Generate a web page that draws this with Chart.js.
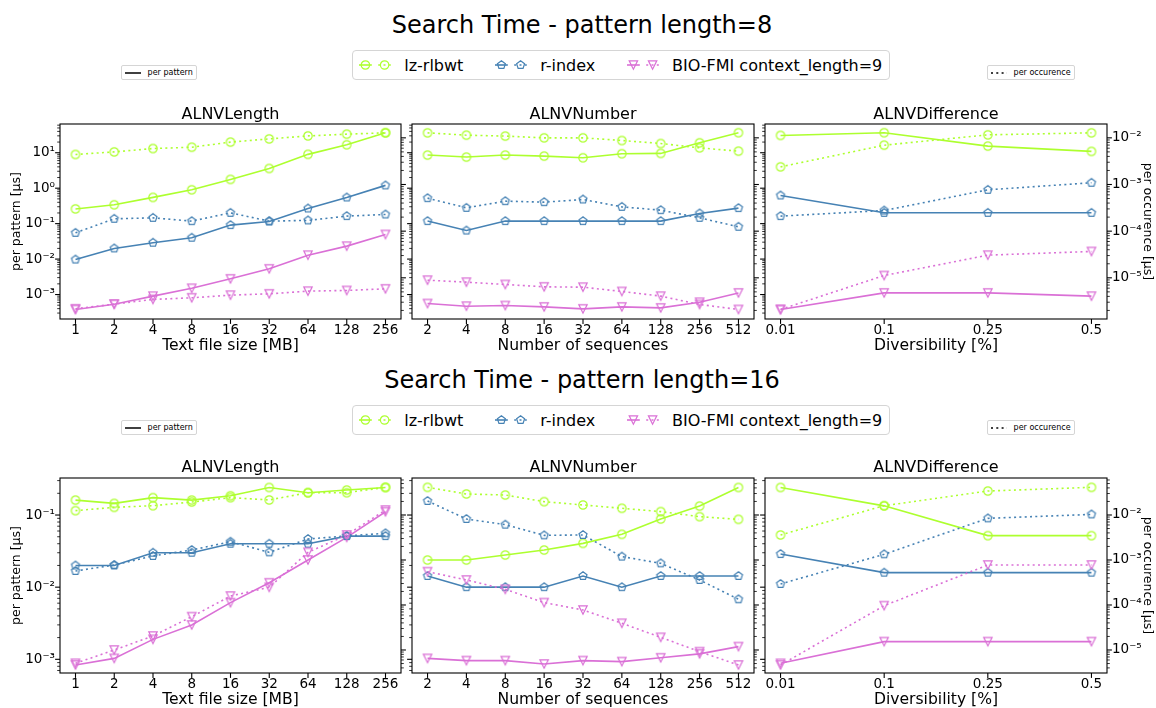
<!DOCTYPE html>
<html>
<head>
<meta charset="utf-8">
<title>Search Time</title>
<script src="https://cdn.jsdelivr.net/npm/chart.js@4.4.1/dist/chart.umd.min.js"></script>
<style>
  html, body { margin: 0; padding: 0; background: #fff; }
  body { width: 1156px; height: 708px; overflow: hidden; position: relative;
         font-family: "DejaVu Sans", sans-serif; color: #000; }
  canvas { position: absolute; }
  .suptitle { position: absolute; left: 4px; width: 1156px; text-align: center;
              font-size: 24px; line-height: 24px; white-space: nowrap; }
  .legend { position: absolute; display: flex; align-items: center; background: #fff;
            border: 1px solid #d5d5d5; box-sizing: border-box; white-space: nowrap; }
  .entry { display: flex; align-items: center; }
  .entry svg { display: block; }
</style>
</head>
<body>
<script>
// ---------- categories ----------
const fileSizesMB    = ['1', '2', '4', '8', '16', '32', '64', '128', '256'];
const sequenceCounts = ['2', '4', '8', '16', '32', '64', '128', '256', '512'];
const diversities    = ['0.01', '0.1', '0.25', '0.5'];

// ---------- pattern length 8 ----------
// ALNVLength
const len8LzPattern     = [0.26, 0.34, 0.55, 0.90, 1.77, 3.6, 9.0, 16.8, 36.7];
const len8LzOccurence   = [4.4e-3, 5.0e-3, 5.9e-3, 6.3e-3, 8.1e-3, 9.5e-3, 0.011, 0.012, 0.0128];
const len8RiPattern     = [0.0097, 0.020, 0.029, 0.040, 0.091, 0.115, 0.268, 0.548, 1.2];
const len8RiOccurence   = [9.2e-5, 1.84e-4, 1.93e-4, 1.64e-4, 2.47e-4, 1.64e-4, 1.7e-4, 2.1e-4, 2.28e-4];
const len8BioPattern    = [3.77e-4, 5.3e-4, 9.0e-4, 1.5e-3, 2.77e-3, 5.3e-3, 0.0129, 0.0232, 0.0494];
const len8BioOccurence  = [2.17e-6, 2.73e-6, 3.44e-6, 3.73e-6, 4.25e-6, 4.54e-6, 5.18e-6, 5.36e-6, 5.81e-6];
// ALNVNumber
const num8LzPattern     = [8.6, 7.55, 8.6, 8.05, 7.22, 9.37, 9.57, 19.1, 36.7];
const num8LzOccurence   = [0.0128, 0.0114, 0.0109, 0.0100, 0.0100, 8.77e-3, 7.56e-3, 6.1e-3, 5.18e-3];
const num8RiPattern     = [0.118, 0.064, 0.118, 0.118, 0.118, 0.118, 0.118, 0.194, 0.274];
const num8RiOccurence   = [5.1e-4, 3.16e-4, 4.4e-4, 4.18e-4, 4.77e-4, 3.32e-4, 2.82e-4, 1.93e-4, 1.24e-4];
const num8BioPattern    = [5.57e-4, 4.69e-4, 4.89e-4, 4.48e-4, 3.94e-4, 4.48e-4, 4.2e-4, 6.08e-4, 1.11e-3];
const num8BioOccurence  = [8.9e-6, 8.07e-6, 7.2e-6, 6.41e-6, 6.3e-6, 5.1e-6, 4.05e-6, 2.68e-6, 2.1e-6];
// ALNVDifference
const div8LzPattern     = [30.8, 36.7, 15.4, 10.9];
const div8LzOccurence   = [2.39e-3, 6.96e-3, 0.0116, 0.0128];
const div8RiPattern     = [0.624, 0.202, 0.202, 0.202];
const div8RiOccurence   = [2.1e-4, 2.77e-4, 7.69e-4, 1.09e-3];
const div8BioPattern    = [3.77e-4, 1.11e-3, 1.11e-3, 9.0e-4];
const div8BioOccurence  = [2.1e-6, 1.12e-5, 3.06e-5, 3.67e-5];

// ---------- pattern length 16 ----------
// ALNVLength
const len16LzPattern    = [0.161, 0.145, 0.174, 0.161, 0.185, 0.241, 0.204, 0.222, 0.241];
const len16LzOccurence  = [0.0125, 0.0148, 0.0161, 0.0194, 0.0243, 0.0216, 0.0313, 0.0313, 0.0412];
const len16RiPattern    = [0.020, 0.020, 0.030, 0.030, 0.040, 0.040, 0.040, 0.051, 0.051];
const len16RiOccurence  = [5.7e-4, 7.74e-4, 1.23e-3, 1.67e-3, 2.55e-3, 1.48e-3, 2.93e-3, 3.42e-3, 3.92e-3];
const len16BioPattern   = [8.34e-4, 1.03e-3, 1.89e-3, 2.99e-3, 6.1e-3, 0.0115, 0.0238, 0.049, 0.111];
const len16BioOccurence = [5.06e-6, 1.0e-5, 2.05e-5, 5.5e-5, 1.58e-4, 2.47e-4, 1.48e-3, 3.6e-3, 0.0129];
// ALNVNumber
const num16LzPattern    = [0.0238, 0.0238, 0.0279, 0.0327, 0.0405, 0.054, 0.088, 0.133, 0.241];
const num16LzOccurence  = [0.0412, 0.0293, 0.0278, 0.0198, 0.0167, 0.0141, 0.0119, 9.19e-3, 8.01e-3];
const num16RiPattern    = [0.0143, 0.0100, 0.0100, 0.0100, 0.0143, 0.0100, 0.0143, 0.0143, 0.0143];
const num16RiOccurence  = [0.0205, 8.15e-3, 6.1e-3, 3.53e-3, 3.6e-3, 1.19e-3, 8.43e-4, 3.6e-4, 1.34e-4];
const num16BioPattern   = [1.03e-3, 9.6e-4, 9.6e-4, 8.62e-4, 9.6e-4, 9.3e-4, 1.05e-3, 1.19e-3, 1.5e-3];
const num16BioOccurence = [5.5e-4, 3.6e-4, 2.23e-4, 1.13e-4, 7.75e-5, 3.92e-5, 1.91e-5, 9.19e-6, 4.64e-6];
// ALNVDifference
const div16LzPattern    = [0.241, 0.134, 0.0518, 0.0518];
const div16LzOccurence  = [3.6e-3, 0.0161, 0.0341, 0.0412];
const div16RiPattern    = [0.0288, 0.0159, 0.0159, 0.0159];
const div16RiOccurence  = [2.93e-4, 1.34e-3, 8.43e-3, 0.0103];
const div16BioPattern   = [8.8e-4, 1.76e-3, 1.76e-3, 1.76e-3];
const div16BioOccurence = [4.64e-6, 9.66e-5, 7.74e-4, 7.74e-4];

// ---------- axis limits (log) ----------
const len8PatternRange    = [2.04e-4, 64.7];
const len8OccurenceRange  = [1.31e-6, 0.0198];
const len16PatternRange   = [6.46e-4, 0.326];
const len16OccurenceRange = [3.08e-6, 0.0664];

// ---------- styling ----------
const FONT = '"DejaVu Sans", sans-serif';
const METHODS = [
  { key: 'lz',  name: 'lz-rlbwt',                 color: '#adff2f', marker: 'circle'   },
  { key: 'ri',  name: 'r-index',                  color: '#4682b4', marker: 'pentagon' },
  { key: 'bio', name: 'BIO-FMI context_length=9', color: '#da70d6', marker: 'tridown'  }
];
const LINE_W = 1.6;
const DOTS = [2, 3.3];
const MARK_R = 4.2;
const COLS = [[60, 401], [412, 754], [765, 1107]];

const ROWS = [
  {
    title: 'Search Time - pattern length=8', supTop: 13, legendTop: 50, smallTop: 65,
    boxTop: 124, boxBottom: 319, titlePad: 13,
    patternRange: len8PatternRange, occurenceRange: len8OccurenceRange,
    panels: [
      { name: 'ALNVLength', xTitle: 'Text file size [MB]', labels: fileSizesMB,
        lz: [len8LzPattern, len8LzOccurence], ri: [len8RiPattern, len8RiOccurence], bio: [len8BioPattern, len8BioOccurence] },
      { name: 'ALNVNumber', xTitle: 'Number of sequences', labels: sequenceCounts,
        lz: [num8LzPattern, num8LzOccurence], ri: [num8RiPattern, num8RiOccurence], bio: [num8BioPattern, num8BioOccurence] },
      { name: 'ALNVDifference', xTitle: 'Diversibility [%]', labels: diversities,
        lz: [div8LzPattern, div8LzOccurence], ri: [div8RiPattern, div8RiOccurence], bio: [div8BioPattern, div8BioOccurence] }
    ]
  },
  {
    title: 'Search Time - pattern length=16', supTop: 368, legendTop: 405, smallTop: 420,
    boxTop: 478, boxBottom: 673, titlePad: 12,
    patternRange: len16PatternRange, occurenceRange: len16OccurenceRange,
    panels: [
      { name: 'ALNVLength', xTitle: 'Text file size [MB]', labels: fileSizesMB,
        lz: [len16LzPattern, len16LzOccurence], ri: [len16RiPattern, len16RiOccurence], bio: [len16BioPattern, len16BioOccurence] },
      { name: 'ALNVNumber', xTitle: 'Number of sequences', labels: sequenceCounts,
        lz: [num16LzPattern, num16LzOccurence], ri: [num16RiPattern, num16RiOccurence], bio: [num16BioPattern, num16BioOccurence] },
      { name: 'ALNVDifference', xTitle: 'Diversibility [%]', labels: diversities,
        lz: [div16LzPattern, div16LzOccurence], ri: [div16RiPattern, div16RiOccurence], bio: [div16BioPattern, div16BioOccurence] }
    ]
  }
];

// ---------- helpers ----------
const SUP = { '-': '\u207B', '0': '\u2070', '1': '\u00B9', '2': '\u00B2', '3': '\u00B3',
              '4': '\u2074', '5': '\u2075', '6': '\u2076', '7': '\u2077', '8': '\u2078', '9': '\u2079' };
function pow10Label(v) {
  const e = Math.round(Math.log10(v));
  return '10' + String(e).split('').map(c => SUP[c]).join('');
}

// decade ticks 1..9 x 10^n inside [min, max]
function logTicks(min, max) {
  const out = [];
  for (let e = Math.floor(Math.log10(min)); e <= Math.ceil(Math.log10(max)); e++) {
    for (let k = 1; k <= 9; k++) {
      const v = k * Math.pow(10, e);
      if (v >= min && v <= max) out.push({ value: v, major: k === 1 });
    }
  }
  return out;
}

function markerPath(shape, cx, cy, r) {
  if (shape === 'pentagon') {
    const pts = [];
    for (let k = 0; k < 5; k++) {
      const a = -Math.PI / 2 + k * 2 * Math.PI / 5;
      pts.push([cx + r * Math.cos(a), cy + r * Math.sin(a)]);
    }
    return pts;
  }
  if (shape === 'tridown') return [[cx, cy + r], [cx - r, cy - r], [cx + r, cy - r]];
  return null;
}

// hollow marker bitmaps used as Chart.js point styles
function markerCanvas(shape, color) {
  const c = document.createElement('canvas');
  c.width = 14; c.height = 14;
  const g = c.getContext('2d');
  g.strokeStyle = color; g.lineWidth = 1.2;
  g.beginPath();
  if (shape === 'circle') {
    g.arc(7, 7, MARK_R, 0, Math.PI * 2);
  } else {
    markerPath(shape, 7, 7, MARK_R).forEach((p, i) => i ? g.lineTo(p[0], p[1]) : g.moveTo(p[0], p[1]));
    g.closePath();
  }
  g.stroke();
  return c;
}
const MARKERS = {};
METHODS.forEach(m => { MARKERS[m.key] = markerCanvas(m.marker, m.color); });

function markerSvg(shape, cx, cy, color) {
  if (shape === 'circle')
    return `<circle cx="${cx}" cy="${cy}" r="${MARK_R}" fill="none" stroke="${color}" stroke-width="1.2"/>`;
  const pts = markerPath(shape, cx, cy, MARK_R).map(p => p[0].toFixed(2) + ',' + p[1].toFixed(2)).join(' ');
  return `<polygon points="${pts}" fill="none" stroke="${color}" stroke-width="1.2"/>`;
}

// ---------- frame and tick marks drawn on each panel ----------
const frameAndTicks = {
  id: 'frameAndTicks',
  afterDraw(chart) {
    const { ctx, chartArea: a } = chart;
    ctx.save();
    ctx.strokeStyle = '#000';
    const seg = (x0, y0, x1, y1, w) => {
      ctx.lineWidth = w; ctx.beginPath(); ctx.moveTo(x0, y0); ctx.lineTo(x1, y1); ctx.stroke();
    };
    const xs = chart.scales.x;
    xs.ticks.forEach(t => {
      const px = xs.getPixelForValue(t.value);
      seg(px, a.bottom, px, a.bottom + 4.9, 1.1);
    });
    ['yL', 'yR'].forEach(id => {
      const s = chart.scales[id];
      const left = id === 'yL';
      s.ticks.forEach(t => {
        const py = s.getPixelForValue(t.value);
        const len = t.major ? 4.9 : 2.8;
        const x0 = left ? a.left : a.right;
        seg(x0, py, left ? x0 - len : x0 + len, py, t.major ? 1.1 : 0.8);
      });
    });
    ctx.lineWidth = 1.1;
    ctx.strokeRect(a.left, a.top, a.right - a.left, a.bottom - a.top);
    ctx.restore();
  }
};

function series(values, method, dotted, axis) {
  return {
    data: values.map((v, i) => ({ x: i, y: v })),
    yAxisID: axis,
    borderColor: method.color,
    backgroundColor: 'rgba(0,0,0,0)',
    borderWidth: LINE_W,
    borderDash: dotted ? DOTS : [],
    pointStyle: MARKERS[method.key],
    pointRadius: MARK_R,
    pointHoverRadius: MARK_R,
    tension: 0,
    fill: false
  };
}

function logAxis(position, range, showLabels, titleText) {
  return {
    type: 'logarithmic', position, min: range[0], max: range[1], bounds: 'data',
    afterBuildTicks: s => { s.ticks = logTicks(range[0], range[1]); },
    afterFit: s => { s.width = position === 'left' ? 60 : 49; },
    border: { display: false },
    grid: { drawOnChartArea: false, drawTicks: true, tickLength: 5, tickColor: 'rgba(0,0,0,0)' },
    ticks: {
      autoSkip: false, padding: 0, color: '#000',
      font: { family: FONT, size: 13.5, lineHeight: 1 },
      callback: (v, i, t) => (showLabels && t[i].major) ? pow10Label(v) : ''
    },
    title: {
      display: !!titleText, text: titleText || '', color: '#000',
      font: { family: FONT, size: 12.5, lineHeight: 1 },
      padding: position === 'left' ? { top: 10, bottom: 0 } : { top: 3, bottom: 0 }
    }
  };
}

function makePanel(row, col, panel) {
  const box = COLS[col];
  const L = 60, R = 49, T = 30, B = 40;
  const w = box[1] - box[0] + L + R;
  const h = row.boxBottom - row.boxTop + T + B;
  const canvas = document.createElement('canvas');
  canvas.width = w; canvas.height = h;
  canvas.style.left = (box[0] - L) + 'px';
  canvas.style.top = (row.boxTop - T) + 'px';
  canvas.style.width = w + 'px';
  canvas.style.height = h + 'px';
  document.body.appendChild(canvas);

  const n = panel.labels.length;
  const margin = 0.05 * (n - 1);
  const byKey = { lz: METHODS[0], ri: METHODS[1], bio: METHODS[2] };
  // first dataset is painted last: dotted (per occurence) on top, BIO-FMI topmost
  const datasets = [
    series(panel.bio[1], byKey.bio, true, 'yR'),
    series(panel.ri[1],  byKey.ri,  true, 'yR'),
    series(panel.lz[1],  byKey.lz,  true, 'yR'),
    series(panel.bio[0], byKey.bio, false, 'yL'),
    series(panel.ri[0],  byKey.ri,  false, 'yL'),
    series(panel.lz[0],  byKey.lz,  false, 'yL')
  ];

  new Chart(canvas, {
    type: 'line',
    data: { datasets },
    plugins: [frameAndTicks],
    options: {
      responsive: false, animation: false, devicePixelRatio: 1, events: [],
      layout: { padding: 0, autoPadding: false },
      plugins: {
        legend: { display: false }, tooltip: { enabled: false },
        title: {
          display: true, fullSize: false, text: panel.name, color: '#000',
          font: { family: FONT, size: 16, weight: 'normal', lineHeight: 1 },
          padding: { top: row.titlePad, bottom: T - 16 - row.titlePad }
        }
      },
      scales: {
        x: {
          type: 'linear', min: -margin, max: n - 1 + margin, bounds: 'data',
          afterBuildTicks: s => { s.ticks = panel.labels.map((_, i) => ({ value: i })); },
          afterFit: s => { s.height = B; },
          border: { display: false },
          grid: { drawOnChartArea: false, drawTicks: true, tickLength: 5, tickColor: 'rgba(0,0,0,0)' },
          ticks: {
            autoSkip: false, maxRotation: 0, padding: 0, color: '#000',
            font: { family: FONT, size: 13.5, lineHeight: 1 },
            callback: v => panel.labels[Math.round(v)]
          },
          title: {
            display: true, text: panel.xTitle, color: '#000',
            font: { family: FONT, size: 15.6, lineHeight: 1 },
            padding: { top: 0, bottom: 5 }
          }
        },
        yL: logAxis('left', row.patternRange, col === 0, col === 0 ? 'per pattern [\u00B5s]' : ''),
        yR: logAxis('right', row.occurenceRange, col === 2, col === 2 ? 'per occurence [\u00B5s]' : '')
      }
    }
  });
}

function addHeader(row) {
  const sup = document.createElement('div');
  sup.className = 'suptitle';
  sup.style.top = row.supTop + 'px';
  sup.textContent = row.title;
  document.body.appendChild(sup);

  // method legend: solid (per pattern) and dotted (per occurence) handles side by side
  const lg = document.createElement('div');
  lg.className = 'legend';
  Object.assign(lg.style, { left: '352px', top: row.legendTop + 'px', height: '30px',
    padding: '0 6.4px', fontSize: '16px', borderRadius: '4px' });
  METHODS.forEach((m, i) => {
    const sub = 12.8, gap = 6.4, cy = 8;
    let parts = '';
    [[0, false], [sub + gap, true]].forEach(([x0, dotted]) => {
      parts += `<line x1="${x0}" y1="${cy}" x2="${x0 + sub}" y2="${cy}" stroke="${m.color}" stroke-width="${LINE_W}"` +
               (dotted ? ` stroke-dasharray="${DOTS.join(' ')}"` : '') + '/>';
      parts += markerSvg(m.marker, x0 + sub / 2, cy, m.color);
    });
    const e = document.createElement('div');
    e.className = 'entry';
    if (i) e.style.marginLeft = '32px';
    e.innerHTML = `<svg width="32" height="16" viewBox="0 0 32 16">${parts}</svg>` +
                  `<span style="margin-left:12.8px">${m.name}</span>`;
    lg.appendChild(e);
  });
  document.body.appendChild(lg);

  // line-style legends
  [['per pattern', 121, false], ['per occurence', 987, true]].forEach(([txt, x, dotted]) => {
    const s = document.createElement('div');
    s.className = 'legend';
    Object.assign(s.style, { left: x + 'px', top: row.smallTop + 'px', height: '15px',
      padding: '0 3.2px', fontSize: '8px', borderRadius: '2px' });
    s.innerHTML = `<div class="entry"><svg width="16" height="8" viewBox="0 0 16 8">` +
      `<line x1="0" y1="4" x2="16" y2="4" stroke="#000" stroke-width="1.5"` +
      (dotted ? ` stroke-dasharray="2 3.3"` : '') + `/></svg>` +
      `<span style="margin-left:6.4px">${txt}</span></div>`;
    document.body.appendChild(s);
  });
}

Chart.defaults.font.family = FONT;
Chart.defaults.color = '#000';
ROWS.forEach(row => {
  addHeader(row);
  row.panels.forEach((p, c) => makePanel(row, c, p));
});
</script>
</body>
</html>
